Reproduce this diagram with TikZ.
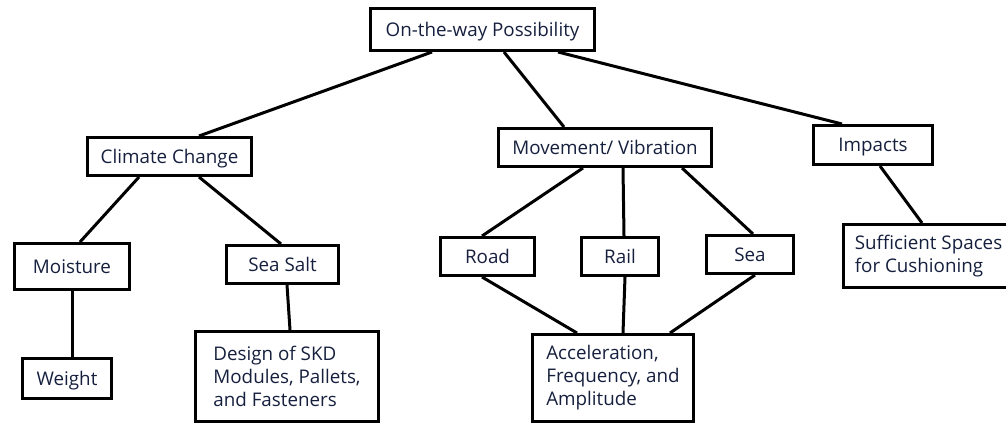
\documentclass[tikz,border=0pt]{standalone}
\usepackage{fontspec}
\setmainfont{Open Sans}
\usetikzlibrary{calc}
\definecolor{inkblue}{RGB}{22,32,62}
\begin{document}
\begin{tikzpicture}[x=1pt,y=-1pt,
  box/.style={draw=black, line width=3pt, inner sep=0pt, text=inkblue,
    font=\fontsize{18.8pt}{23pt}\selectfont},
  single/.style={box, text height=13.4pt, text depth=0pt},
  multi/.style={box, align=left},
  link/.style={draw=black, line width=3pt}]
\useasboundingbox (0,0) rectangle (1006,425);

% level 0
\node[single, minimum width=224pt, minimum height=42pt] (top) at (482.5,29.5) {On-the-way Possibility};

% level 1
\node[single, minimum width=164pt, minimum height=38pt] (climate) at (169.5,156.5) {Climate Change};
\node[single, minimum width=213pt, minimum height=38pt] (move) at (605,147.5) {Movement/ Vibration};
\node[single, minimum width=119pt, minimum height=39pt] (impacts) at (873,145) {Impacts};

% level 2
\node[single, minimum width=115pt, minimum height=46pt] (moisture) at (72,266.5) {Moisture};
\node[single, minimum width=112pt, minimum height=38pt] (seasalt) at (282.5,264.5) {Sea Salt};
\node[single, minimum width=94pt, minimum height=38pt] (road) at (487.5,256.5) {Road};
\node[single, minimum width=77pt, minimum height=38pt] (rail) at (620,256.5) {Rail};
\node[single, minimum width=87pt, minimum height=38pt] (sea) at (750,254.5) {Sea};
\node[multi, minimum width=170pt, minimum height=63pt] (suff) at (928.5,256) {Sufficient Spaces\\for Cushioning};

% level 3
\node[single, minimum width=89pt, minimum height=40pt] (weight) at (67,378.5) {Weight};
\node[multi, minimum width=183pt, minimum height=90pt] (design) at (287,376.5) {Design of SKD\\Modules, Pallets,\\and Fasteners};
\node[multi, minimum width=161pt, minimum height=87pt] (accel) at (613,378) {Acceleration,\\Frequency, and\\Amplitude};

% connectors
\draw[link] ([xshift=-50.5pt]top.south) -- ([xshift=29.5pt]climate.north);
\draw[link] ([xshift=21.5pt]top.south) -- ([xshift=-41pt]move.north);
\draw[link] ([xshift=75.5pt]top.south) -- ([xshift=-31pt]impacts.north);

\draw[link] ([xshift=-30.5pt]climate.south) -- ([xshift=8pt]moisture.north);
\draw[link] ([xshift=29.5pt]climate.south) -- ([xshift=-1.5pt]seasalt.north);
\draw[link] (moisture.south) -- ([xshift=5pt]weight.north);
\draw[link] ([xshift=4.5pt]seasalt.south) -- ([xshift=3pt]design.north);

\draw[link] ([xshift=-22pt]move.south) -- ([xshift=-5.5pt]road.north);
\draw[link] ([xshift=18pt]move.south) -- ([xshift=4pt]rail.north);
\draw[link] ([xshift=77pt]move.south) -- ([xshift=3pt]sea.north);
\draw[link] ([xshift=7pt]impacts.south) -- ([xshift=-6.5pt]suff.north);

\draw[link] ([xshift=-5.5pt]road.south) -- ([xshift=-36pt]accel.north);
\draw[link] ([xshift=5pt]rail.south) -- ([xshift=10pt]accel.north);
\draw[link] ([xshift=5pt]sea.south) -- ([xshift=57pt]accel.north);
\end{tikzpicture}
\end{document}
